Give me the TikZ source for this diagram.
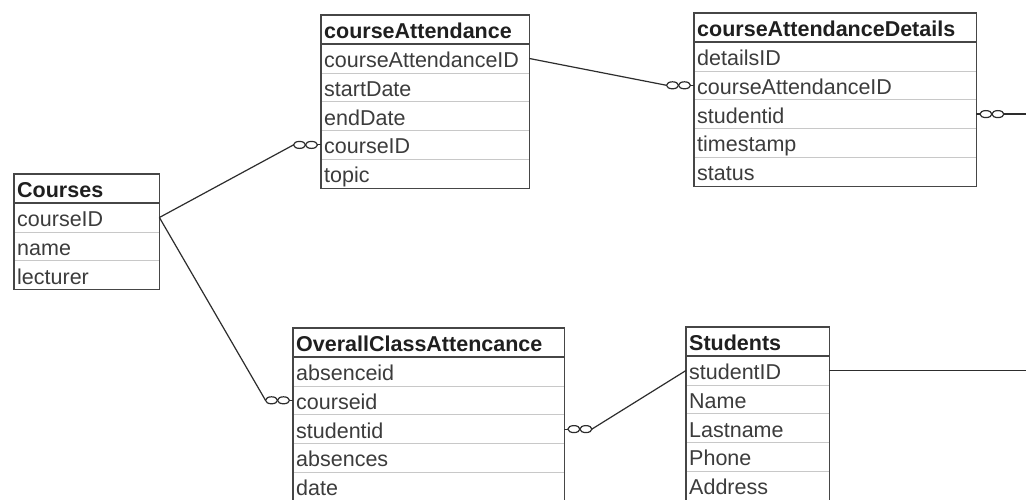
\documentclass[tikz,border=0pt]{standalone}
\usepackage{fontspec}
\setmainfont{Liberation Sans}
\usetikzlibrary{positioning,calc}
\definecolor{TableBorder}{RGB}{70,70,70}
\definecolor{RowLine}    {RGB}{200,200,200}
\definecolor{FieldText}  {RGB}{60,60,60}
\definecolor{LinkLine}   {RGB}{45,45,45}
\tikzset{
  tblhead/.style={anchor=north west,inner xsep=3pt,inner ysep=4.25pt,
    text width=#1,text height=19pt,text depth=1pt,align=left,
    font=\fontsize{21.5}{24}\selectfont\bfseries,text=black!88},
  tblfield/.style={anchor=north west,inner xsep=3pt,inner ysep=4.4pt,
    text width=#1,text height=19pt,text depth=1pt,align=left,
    font=\fontsize{21.5}{24}\selectfont,text=FieldText},
  tblborder/.style={TableBorder,line width=1.5pt},
  headline/.style={TableBorder,line width=2.2pt},
  rowline/.style={RowLine,line width=1pt},
  linkline/.style={LinkLine,line width=1.2pt},
  manyleft/.pic={
    \draw[linkline] (0,0) -- (-3.5,0);
    \draw[linkline] (-9.5,0) ellipse [x radius=6pt,y radius=3.5pt];
    \draw[linkline] (-21.5,0) ellipse [x radius=6pt,y radius=3.5pt];
    \coordinate (-end) at (-27.5,0);},
  manyright/.pic={
    \draw[linkline] (0,0) -- (3.5,0);
    \draw[linkline] (9.5,0) ellipse [x radius=6pt,y radius=3.5pt];
    \draw[linkline] (21.5,0) ellipse [x radius=6pt,y radius=3.5pt];
    \coordinate (-end) at (27.5,0);}
}
\begin{document}
\begin{tikzpicture}[x=1pt,y=-1pt]
  \useasboundingbox[fill=white] (0,0) rectangle (1026,500);
  %% Courses
  \node[tblhead=139pt] (cs-head) at (14,174) {Courses};
  \foreach \f [count=\i] in {courseID,name,lecturer}
    \node[tblfield=139pt] (cs-\f) at ($(cs-head.south west)+(0,{28.8*(\i-1)})$) {\f};
  \foreach \f in {courseID,name}
    \draw[rowline] (cs-\f.south west) -- (cs-\f.south east);
  \draw[tblborder] (cs-head.north west) rectangle (cs-lecturer.south east);
  \draw[headline] (cs-head.south west) -- (cs-head.south east);
  %% courseAttendance
  \node[tblhead=202pt] (ca-head) at (321,15) {courseAttendance};
  \foreach \f [count=\i] in {courseAttendanceID,startDate,endDate,courseID,topic}
    \node[tblfield=202pt] (ca-\f) at ($(ca-head.south west)+(0,{28.8*(\i-1)})$) {\f};
  \foreach \f in {courseAttendanceID,startDate,endDate,courseID}
    \draw[rowline] (ca-\f.south west) -- (ca-\f.south east);
  \draw[tblborder] (ca-head.north west) rectangle (ca-topic.south east);
  \draw[headline] (ca-head.south west) -- (ca-head.south east);
  %% courseAttendanceDetails
  \node[tblhead=276pt] (cad-head) at (694,13) {courseAttendanceDetails};
  \foreach \f [count=\i] in {detailsID,courseAttendanceID,studentid,timestamp,status}
    \node[tblfield=276pt] (cad-\f) at ($(cad-head.south west)+(0,{28.8*(\i-1)})$) {\f};
  \foreach \f in {detailsID,courseAttendanceID,studentid,timestamp}
    \draw[rowline] (cad-\f.south west) -- (cad-\f.south east);
  \draw[tblborder] (cad-head.north west) rectangle (cad-status.south east);
  \draw[headline] (cad-head.south west) -- (cad-head.south east);
  %% OverallClassAttencance
  \node[tblhead=265pt] (oca-head) at (293,328) {OverallClassAttencance};
  \foreach \f [count=\i] in {absenceid,courseid,studentid,absences,date}
    \node[tblfield=265pt] (oca-\f) at ($(oca-head.south west)+(0,{28.8*(\i-1)})$) {\f};
  \foreach \f in {absenceid,courseid,studentid,absences}
    \draw[rowline] (oca-\f.south west) -- (oca-\f.south east);
  \draw[tblborder] (oca-head.north west) rectangle (oca-date.south east);
  \draw[headline] (oca-head.south west) -- (oca-head.south east);
  %% Students
  \node[tblhead=137pt] (st-head) at (686,327) {Students};
  \foreach \f [count=\i] in {studentID,Name,Lastname,Phone,Address}
    \node[tblfield=137pt] (st-\f) at ($(st-head.south west)+(0,{28.8*(\i-1)})$) {\f};
  \foreach \f in {studentID,Name,Lastname,Phone}
    \draw[rowline] (st-\f.south west) -- (st-\f.south east);
  \draw[tblborder] (st-head.north west) rectangle (st-Address.south east);
  \draw[headline] (st-head.south west) -- (st-head.south east);
  %% Relationships (many ends)
  \pic (m1) at (ca-courseID.west) {manyleft};
  \pic (m2) at (oca-courseid.west) {manyleft};
  \pic (m3) at (cad-courseAttendanceID.west) {manyleft};
  \pic (m4) at (oca-studentid.east) {manyright};
  \pic (m5) at (cad-studentid.east) {manyright};
  \draw[linkline] (cs-courseID.east) -- (m1-end);
  \draw[linkline] (cs-courseID.east) -- (m2-end);
  \draw[linkline] (ca-courseAttendanceID.east) -- (m3-end);
  \draw[linkline] (st-studentID.west) -- (m4-end);
  \draw[linkline] (m5-end) -- ++(30,0) |- (st-studentID.east);
\end{tikzpicture}
\end{document}
